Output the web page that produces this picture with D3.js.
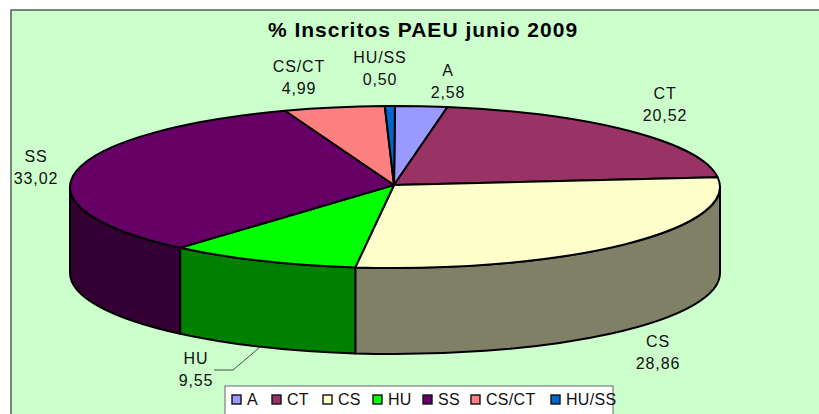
<!DOCTYPE html>
<html>
<head>
<meta charset="utf-8">
<script src="https://cdn.jsdelivr.net/npm/d3@7"></script>
<style>
    html, body { margin: 0; padding: 0; background: #fff; overflow: hidden; }
    text { font-family: "Liberation Sans", Arial, sans-serif; fill: #111; }
</style>
</head>
<body>
<div id="chart"></div>
<script>
// chart values
const categories = ["A", "CT", "CS", "HU", "SS", "CS/CT", "HU/SS"];
const values = [2.58, 20.52, 28.86, 9.55, 33.02, 4.99, 0.50];
const valueLabels = ["2,58", "20,52", "28,86", "9,55", "33,02", "4,99", "0,50"];
const topColors = ["#9999ff", "#993366", "#ffffcc", "#00ff00", "#660066", "#ff8080", "#0066cc"];
const sideColors = ["#4d4d80", "#4d1a33", "#808066", "#008000", "#330033", "#804040", "#003366"];

// label centres and baselines, in page pixels
const labelX = [448, 665, 658, 196, 36, 299, 380];
const labelY = [76, 99, 347, 364, 162, 72, 63];
const legendX = [232, 272, 323, 373, 423, 471, 551];

const width = 819, height = 414;
const cx = 395, cy = 187, rx = 325, ry = 81, depth = 86;
const k = ry / rx;
// the slices meet slightly off the ellipse centre in the original
const apexX = -1, apexY = -2 / k;

let svg = d3.select("#chart").append("svg")
    .attr("width", width)
    .attr("height", height)
    .style("display", "block");

// background frame
svg.append("rect")
    .attr("x", 11).attr("y", 10)
    .attr("width", width + 20).attr("height", height + 20)
    .attr("fill", "#ccffcc")
    .attr("stroke", "#333")
    .attr("stroke-width", 1.2);

svg.append("text")
    .attr("x", 423).attr("y", 37)
    .attr("text-anchor", "middle")
    .attr("font-size", 21)
    .attr("font-weight", "bold")
    .attr("letter-spacing", 1)
    .style("fill", "#000")
    .text("% Inscritos PAEU junio 2009");

let pie = d3.pie().sort(null).value(d => d);
let slices = pie(values);

// everything is drawn on a circle and squashed to the tilted ellipse
let g = svg.append("g")
    .attr("transform", `translate(${cx},${cy}) scale(1,${k})`);

function slicePath(d) {
    let p = d3.path();
    p.moveTo(apexX, apexY);
    // d3 path angles start at 3 o'clock, pie angles at 12 o'clock
    p.arc(0, 0, rx, d.startAngle - Math.PI / 2, d.endAngle - Math.PI / 2);
    p.closePath();
    return p.toString();
}

// side wall of a slice, only the part facing the viewer (90deg to 270deg)
function wallPath(d) {
    let a0 = Math.max(d.startAngle, Math.PI / 2);
    let a1 = Math.min(d.endAngle, Math.PI * 3 / 2);
    if (a1 <= a0) return null;
    let drop = depth / k;
    let p = d3.path();
    p.arc(0, 0, rx, a0 - Math.PI / 2, a1 - Math.PI / 2);
    p.lineTo(rx * Math.sin(a1), -rx * Math.cos(a1) + drop);
    p.arc(0, drop, rx, a1 - Math.PI / 2, a0 - Math.PI / 2, true);
    p.closePath();
    return p.toString();
}

g.selectAll(".wall")
    .data(slices.filter(d => wallPath(d)))
    .enter().append("path")
    .attr("class", "wall")
    .attr("d", wallPath)
    .attr("fill", d => sideColors[d.index])
    .attr("stroke", "#000")
    .attr("stroke-width", 2)
    .attr("vector-effect", "non-scaling-stroke");

g.selectAll(".slice")
    .data(slices)
    .enter().append("path")
    .attr("class", "slice")
    .attr("d", slicePath)
    .attr("fill", d => topColors[d.index])
    .attr("stroke", "#000")
    .attr("stroke-width", 2)
    .attr("stroke-linejoin", "round")
    .attr("vector-effect", "non-scaling-stroke");

// leader line for HU
svg.append("path")
    .attr("d", d3.line()([[260, 347], [233, 370], [214, 370]]))
    .attr("fill", "none")
    .attr("stroke", "#222")
    .attr("stroke-width", 0.8);

// data labels
let labels = svg.selectAll(".label")
    .data(categories)
    .enter().append("text")
    .attr("class", "label")
    .attr("text-anchor", "middle")
    .attr("font-size", 16)
    .attr("letter-spacing", 0.9);

labels.append("tspan")
    .attr("x", (d, i) => labelX[i])
    .attr("y", (d, i) => labelY[i])
    .text(d => d);

labels.append("tspan")
    .attr("x", (d, i) => labelX[i])
    .attr("y", (d, i) => labelY[i] + 22)
    .text((d, i) => valueLabels[i]);

// legend, runs off the bottom of the picture
svg.append("rect")
    .attr("x", 225).attr("y", 386)
    .attr("width", 388).attr("height", 40)
    .attr("fill", "#fff")
    .attr("stroke", "#666")
    .attr("stroke-width", 1);

let legend = svg.selectAll(".legend-item")
    .data(categories)
    .enter().append("g")
    .attr("class", "legend-item")
    .attr("transform", (d, i) => `translate(${legendX[i]},395)`);

legend.append("rect")
    .attr("width", 9).attr("height", 9)
    .attr("fill", (d, i) => topColors[i])
    .attr("stroke", "#111")
    .attr("stroke-width", 1.4);

legend.append("text")
    .attr("x", 15).attr("y", 10)
    .attr("font-size", 16)
    .attr("letter-spacing", 0.3)
    .text(d => d);
</script>
</body>
</html>
